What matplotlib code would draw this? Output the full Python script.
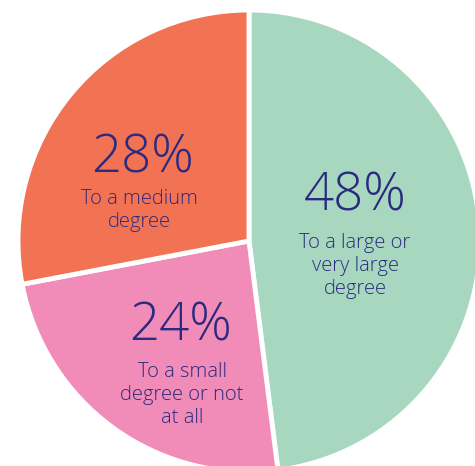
import matplotlib
matplotlib.use("Agg")
import matplotlib.pyplot as plt

# Data
categories = ["To a large or\nvery large\ndegree", "To a small\ndegree or not\nat all", "To a medium\ndegree"]
values = [48, 24, 28]
pct_labels = ["48%", "24%", "28%"]
colors = ["#A8D7C0", "#F18BB7", "#F27254"]
text_color = "#2B2A7E"

W, H = 475, 466
fig = plt.figure(figsize=(W / 100, H / 100), dpi=100)
ax = fig.add_axes([0, 0, 1, 1])

cx, cy, r = 249, H - 241, 231
ax.pie(values, colors=colors, startangle=90, counterclock=False,
       center=(cx, cy), radius=r, frame=True,
       wedgeprops=dict(edgecolor="white", linewidth=3.5))
ax.set_xlim(0, W)
ax.set_ylim(0, H)
ax.set_aspect("auto")
ax.axis("off")

pct_pos = [(355, 197), (181, 327), (143, 159)]
cat_pos = [(355, 266), (182, 395), (139, 211)]

font = "Open Sans"
for (px, py), t in zip(pct_pos, pct_labels):
    ax.text(px, H - py, t, ha="center", va="center", fontsize=38,
            color=text_color, family=font, fontweight=300)
for (px, py), t in zip(cat_pos, categories):
    ax.text(px, H - py, t, ha="center", va="center", fontsize=14.5,
            color=text_color, family=font, fontweight=300, linespacing=1.2)

fig.savefig("out.png", dpi=100)
